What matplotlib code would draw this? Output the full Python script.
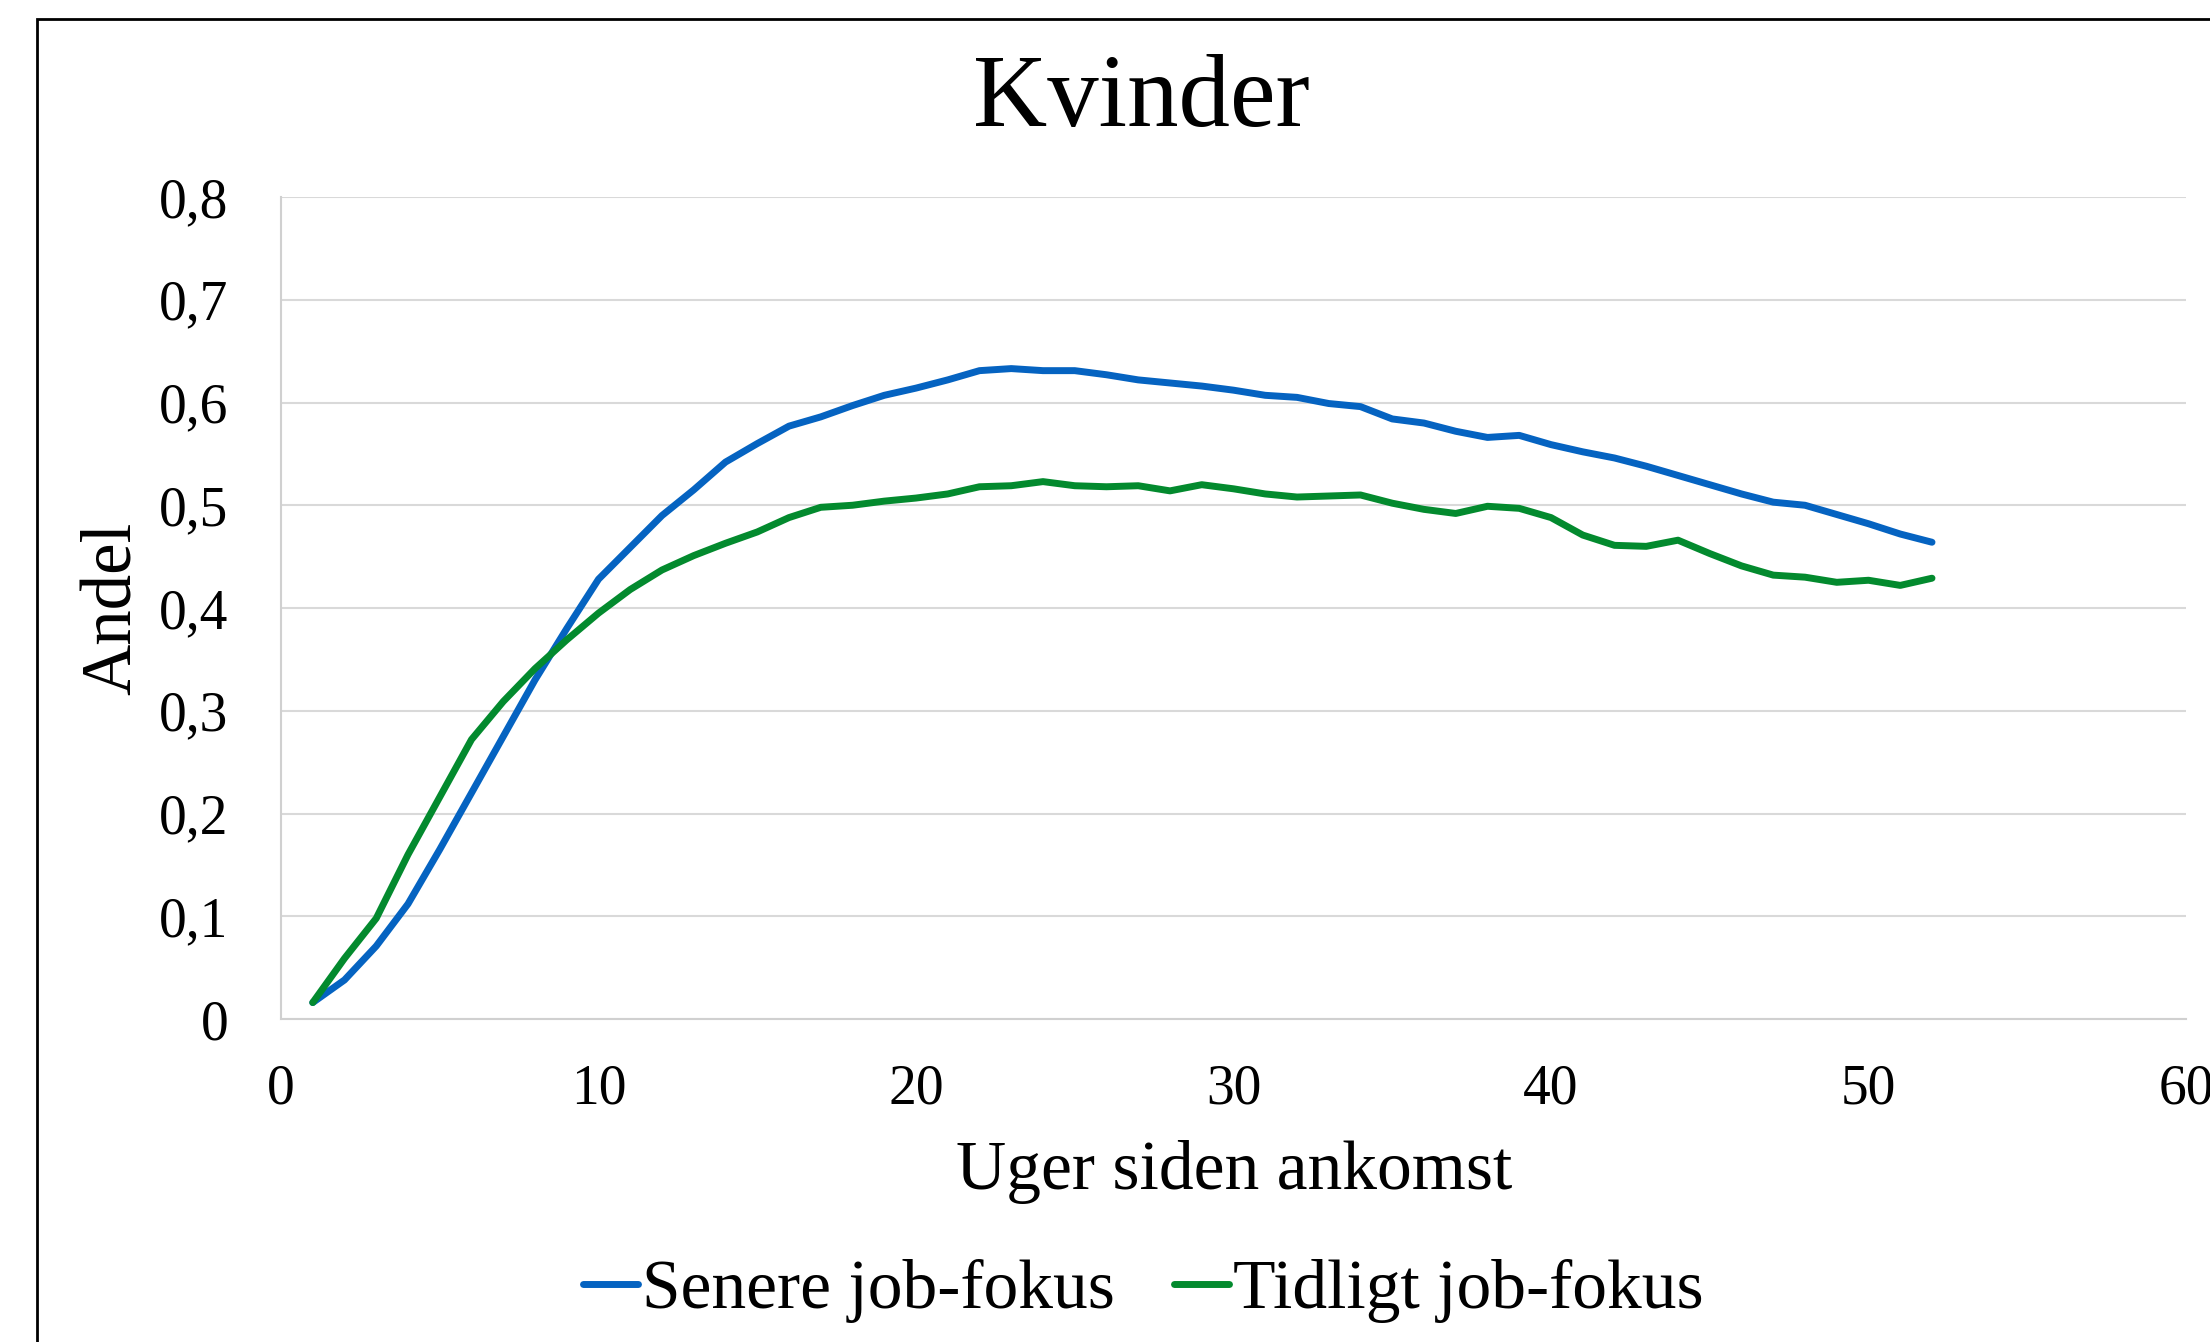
import matplotlib
matplotlib.use("Agg")
import matplotlib.pyplot as plt
from matplotlib.patches import Rectangle
from matplotlib.ticker import FuncFormatter

plt.rcParams['font.family'] = ['Liberation Serif', 'DejaVu Serif']

weeks = list(range(1, 53))
senere = [0.016, 0.038, 0.071, 0.112, 0.165, 0.220, 0.275, 0.330, 0.380, 0.428,
          0.459, 0.490, 0.515, 0.542, 0.560, 0.577, 0.586, 0.597, 0.607, 0.614,
          0.622, 0.631, 0.633, 0.631, 0.631, 0.627, 0.622, 0.619, 0.616, 0.612,
          0.607, 0.605, 0.599, 0.596, 0.584, 0.580, 0.572, 0.566, 0.568, 0.559,
          0.552, 0.546, 0.538, 0.529, 0.520, 0.511, 0.503, 0.500, 0.491, 0.482,
          0.472, 0.464]
tidligt = [0.016, 0.059, 0.098, 0.160, 0.216, 0.272, 0.309, 0.341, 0.369, 0.395,
           0.418, 0.437, 0.451, 0.463, 0.474, 0.488, 0.498, 0.500, 0.504, 0.507,
           0.511, 0.518, 0.519, 0.523, 0.519, 0.518, 0.519, 0.514, 0.520, 0.516,
           0.511, 0.508, 0.509, 0.510, 0.502, 0.496, 0.492, 0.499, 0.497, 0.488,
           0.471, 0.461, 0.460, 0.466, 0.453, 0.441, 0.432, 0.430, 0.425, 0.427,
           0.422, 0.429]
series_names = ["Senere job-fokus", "Tidligt job-fokus"]
title = "Kvinder"
xlabel = "Uger siden ankomst"
ylabel = "Andel"
xticks = [0, 10, 20, 30, 40, 50, 60]
yticks = [0, 0.1, 0.2, 0.3, 0.4, 0.5, 0.6, 0.7, 0.8]

W, H = 2210, 1342
fig = plt.figure(figsize=(W / 100, H / 100), dpi=100)
ax = fig.add_axes([281 / W, 1 - 1019 / H, (2186 - 281) / W, (1019 - 197) / H])

ax.plot(weeks, senere, color='#0563C1', lw=5, solid_capstyle='round',
        solid_joinstyle='round', label=series_names[0], zorder=3)
ax.plot(weeks, tidligt, color='#038A2E', lw=5, solid_capstyle='round',
        solid_joinstyle='round', label=series_names[1], zorder=3)

ax.set_xlim(0, 60)
ax.set_ylim(0, 0.8)
ax.set_xticks(xticks)
ax.set_yticks(yticks)
ax.yaxis.set_major_formatter(FuncFormatter(lambda v, p: "0" if v == 0 else f"{v:.1f}".replace('.', ',')))
ax.tick_params(axis='both', length=0, labelsize=40, colors='black')
ax.tick_params(axis='y', pad=38)
ax.tick_params(axis='x', pad=32)
ax.grid(axis='y', color='#D9D9D9', lw=1.5, zorder=0)
ax.set_axisbelow(True)
for s in ['top', 'right']:
    ax.spines[s].set_visible(False)
for s in ['left', 'bottom']:
    ax.spines[s].set_color('#D0D0D0')
    ax.spines[s].set_linewidth(1.5)

fig.text(1141 / W, 1 - 101 / H, title, fontsize=74, ha='center', va='center')
fig.text(1234 / W, 1 - 1172 / H, xlabel, fontsize=50, ha='center', va='center')
fig.text(113 / W, 1 - 608 / H, ylabel, fontsize=51, ha='center', va='center', rotation=90)

fig.legend(loc='center', bbox_to_anchor=(1143 / W, 1 - 1291 / H), ncol=2, frameon=False,
           fontsize=50, handlelength=0.8, handletextpad=0.05, columnspacing=0.85)

fig.patches.append(Rectangle((37 / W, -0.05), 1.2, 1 - 19 / H + 0.05, transform=fig.transFigure,
                             fill=False, edgecolor='black', lw=2, zorder=10))

fig.savefig("out.png", dpi=100)
